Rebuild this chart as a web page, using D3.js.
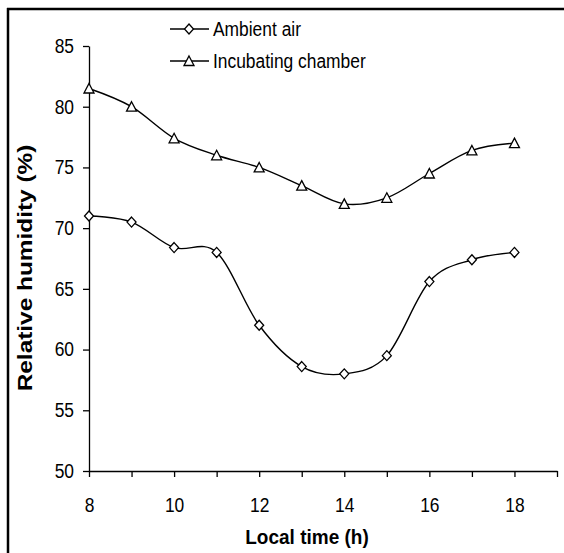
<!DOCTYPE html>
<html>
<head>
<meta charset="utf-8">
<script src="https://cdn.jsdelivr.net/npm/d3@7"></script>
<style>
  body { margin: 0; background: #fff; }
  text { font-family: "Liberation Sans", Arial, sans-serif; fill: #000; }
  .title { font-weight: bold; }
</style>
</head>
<body>
<svg id="svg" width="564" height="553"></svg>
<script>
const hours = [8, 9, 10, 11, 12, 13, 14, 15, 16, 17, 18]
const ambient = [71, 70.5, 68.4, 68, 62, 58.6, 58, 59.5, 65.6, 67.4, 68]
const chamber = [81.5, 80, 77.4, 76, 75, 73.5, 72, 72.5, 74.5, 76.4, 77]
const xTicks = [8, 10, 12, 14, 16, 18]
const yTicks = [50, 55, 60, 65, 70, 75, 80, 85]

const width = 564
const height = 553
const margin = { top: 46, right: 7, bottom: 82, left: 89 }
// the picture is a bit taller than wide, text looks condensed
const squeeze = 0.87

const svg = d3.select('#svg')

const xScale = d3.scaleLinear()
  .domain([8, 19])
  .range([margin.left, width - margin.right])

const yScale = d3.scaleLinear()
  .domain([50, 85])
  .range([height - margin.bottom, margin.top])

// frame (only top and left visible)
svg.append('line')
  .attr('x1', 7).attr('x2', width).attr('y1', 9).attr('y2', 9)
  .attr('stroke', '#000').attr('stroke-width', 2.5)
svg.append('line')
  .attr('x1', 8).attr('x2', 8).attr('y1', 8).attr('y2', height)
  .attr('stroke', '#000').attr('stroke-width', 2.5)

const xAxis = d3.axisBottom(xScale)
  .tickValues(d3.range(8, 20))
  .tickSize(6)
  .tickSizeOuter(0)
  .tickFormat(d => xTicks.includes(d) ? d : '')

const yAxis = d3.axisLeft(yScale)
  .tickValues(yTicks)
  .tickSize(6)
  .tickSizeOuter(0)

const gx = svg.append('g')
  .attr('transform', `translate(0, ${yScale(50)})`)
  .call(xAxis)
gx.selectAll('text')
  .attr('font-size', 20)
  .attr('y', 0)
  .attr('dy', '0.35em')
  .attr('transform', `translate(0, 34) scale(${squeeze}, 1)`)

const gy = svg.append('g')
  .attr('transform', `translate(${margin.left}, 0)`)
  .call(yAxis)
gy.selectAll('text')
  .attr('font-size', 20)
  .attr('x', 0)
  .attr('transform', `translate(-15, 0) scale(${squeeze}, 1)`)

svg.selectAll('.tick text').attr('fill', '#000').style('font-family', '"Liberation Sans", Arial, sans-serif')
svg.selectAll('.domain, .tick line').attr('stroke', '#000').attr('stroke-width', 1.3)

const line = d3.line()
  .x((d, i) => xScale(hours[i]))
  .y(d => yScale(d))
  .curve(d3.curveCardinal.tension(0))

const series = [
  { name: 'Ambient air', values: ambient },
  { name: 'Incubating chamber', values: chamber }
]

const diamond = 'M0,-5L4.5,0L0,5L-4.5,0Z'
const triangle = 'M0,-5L5,4.5L-5,4.5Z'
const shapes = [diamond, triangle]

series.forEach((s, k) => {
  svg.append('path')
    .attr('d', line(s.values))
    .attr('fill', 'none')
    .attr('stroke', '#000')
    .attr('stroke-width', 1.4)

  svg.append('g').selectAll('path')
    .data(s.values)
    .enter()
    .append('path')
    .attr('d', shapes[k])
    .attr('transform', (d, i) => `translate(${xScale(hours[i])}, ${yScale(d)})`)
    .attr('fill', '#fff')
    .attr('stroke', '#000')
    .attr('stroke-width', 1.3)
})

// legend
const legend = svg.append('g')
series.forEach((s, k) => {
  const y = 29 + k * 32
  legend.append('line')
    .attr('x1', 170).attr('x2', 209).attr('y1', y).attr('y2', y)
    .attr('stroke', '#000').attr('stroke-width', 1.3)
  legend.append('path')
    .attr('d', shapes[k])
    .attr('transform', `translate(189, ${y})`)
    .attr('fill', '#fff').attr('stroke', '#000').attr('stroke-width', 1.3)
  legend.append('text')
    .attr('transform', `translate(213, ${y}) scale(${squeeze}, 1)`)
    .attr('dy', '0.35em')
    .attr('font-size', 20)
    .text(s.name)
})

svg.append('text')
  .attr('class', 'title')
  .attr('transform', 'translate(307, 537) scale(0.95, 1)')
  .attr('text-anchor', 'middle')
  .attr('dy', '0.35em')
  .attr('font-size', 20)
  .text('Local time (h)')

svg.append('text')
  .attr('class', 'title')
  .attr('transform', 'translate(25, 268) rotate(-90) scale(1.22, 1)')
  .attr('text-anchor', 'middle')
  .attr('dy', '0.35em')
  .attr('font-size', 20)
  .text('Relative humidity (%)')
</script>
</body>
</html>
